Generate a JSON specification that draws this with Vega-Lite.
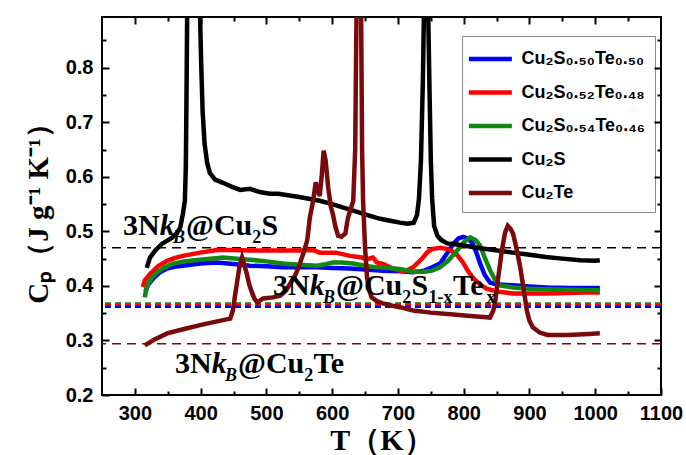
{
  "$schema": "https://vega.github.io/schema/vega-lite/v6.json",
  "width": 559,
  "height": 378,
  "autosize": {"type": "none"},
  "padding": {"left": 102, "top": 17, "right": 25, "bottom": 60},
  "background": "white",
  "config": {
    "view": {"stroke": "black", "strokeWidth": 2},
    "axis": {"grid": false, "domainColor": "black", "labelColor": "black", "titleColor": "black", "zindex": 1}
  },
  "datasets": {
    "curves": [
      {"series":"Cu₂S₀.₅₀Te₀.₅₀","T":316,"Cp":0.39},{"series":"Cu₂S₀.₅₀Te₀.₅₀","T":320,"Cp":0.402},{"series":"Cu₂S₀.₅₀Te₀.₅₀","T":328,"Cp":0.414},{"series":"Cu₂S₀.₅₀Te₀.₅₀","T":338,"Cp":0.425},{"series":"Cu₂S₀.₅₀Te₀.₅₀","T":349,"Cp":0.432},{"series":"Cu₂S₀.₅₀Te₀.₅₀","T":360,"Cp":0.435},{"series":"Cu₂S₀.₅₀Te₀.₅₀","T":373,"Cp":0.437},{"series":"Cu₂S₀.₅₀Te₀.₅₀","T":399,"Cp":0.441},{"series":"Cu₂S₀.₅₀Te₀.₅₀","T":425,"Cp":0.443},{"series":"Cu₂S₀.₅₀Te₀.₅₀","T":450,"Cp":0.44},{"series":"Cu₂S₀.₅₀Te₀.₅₀","T":475,"Cp":0.437},{"series":"Cu₂S₀.₅₀Te₀.₅₀","T":500,"Cp":0.436},{"series":"Cu₂S₀.₅₀Te₀.₅₀","T":525,"Cp":0.434},{"series":"Cu₂S₀.₅₀Te₀.₅₀","T":550,"Cp":0.434},{"series":"Cu₂S₀.₅₀Te₀.₅₀","T":577,"Cp":0.434},{"series":"Cu₂S₀.₅₀Te₀.₅₀","T":600,"Cp":0.433},{"series":"Cu₂S₀.₅₀Te₀.₅₀","T":627,"Cp":0.432},{"series":"Cu₂S₀.₅₀Te₀.₅₀","T":650,"Cp":0.43},{"series":"Cu₂S₀.₅₀Te₀.₅₀","T":677,"Cp":0.428},{"series":"Cu₂S₀.₅₀Te₀.₅₀","T":703,"Cp":0.427},{"series":"Cu₂S₀.₅₀Te₀.₅₀","T":723,"Cp":0.425},{"series":"Cu₂S₀.₅₀Te₀.₅₀","T":740,"Cp":0.428},{"series":"Cu₂S₀.₅₀Te₀.₅₀","T":752,"Cp":0.434},{"series":"Cu₂S₀.₅₀Te₀.₅₀","T":764,"Cp":0.441},{"series":"Cu₂S₀.₅₀Te₀.₅₀","T":772,"Cp":0.455},{"series":"Cu₂S₀.₅₀Te₀.₅₀","T":778,"Cp":0.466},{"series":"Cu₂S₀.₅₀Te₀.₅₀","T":784,"Cp":0.477},{"series":"Cu₂S₀.₅₀Te₀.₅₀","T":792,"Cp":0.487},{"series":"Cu₂S₀.₅₀Te₀.₅₀","T":799,"Cp":0.49},{"series":"Cu₂S₀.₅₀Te₀.₅₀","T":806,"Cp":0.487},{"series":"Cu₂S₀.₅₀Te₀.₅₀","T":813,"Cp":0.479},{"series":"Cu₂S₀.₅₀Te₀.₅₀","T":819,"Cp":0.462},{"series":"Cu₂S₀.₅₀Te₀.₅₀","T":825,"Cp":0.441},{"series":"Cu₂S₀.₅₀Te₀.₅₀","T":832,"Cp":0.42},{"series":"Cu₂S₀.₅₀Te₀.₅₀","T":840,"Cp":0.406},{"series":"Cu₂S₀.₅₀Te₀.₅₀","T":850,"Cp":0.403},{"series":"Cu₂S₀.₅₀Te₀.₅₀","T":875,"Cp":0.401},{"series":"Cu₂S₀.₅₀Te₀.₅₀","T":900,"Cp":0.399},{"series":"Cu₂S₀.₅₀Te₀.₅₀","T":927,"Cp":0.397},{"series":"Cu₂S₀.₅₀Te₀.₅₀","T":960,"Cp":0.396},{"series":"Cu₂S₀.₅₀Te₀.₅₀","T":1007,"Cp":0.396},

      {"series":"Cu₂S₀.₅₂Te₀.₄₈","T":312,"Cp":0.398},{"series":"Cu₂S₀.₅₂Te₀.₄₈","T":315,"Cp":0.41},{"series":"Cu₂S₀.₅₂Te₀.₄₈","T":323,"Cp":0.422},{"series":"Cu₂S₀.₅₂Te₀.₄₈","T":335,"Cp":0.436},{"series":"Cu₂S₀.₅₂Te₀.₄₈","T":349,"Cp":0.446},{"series":"Cu₂S₀.₅₂Te₀.₄₈","T":360,"Cp":0.451},{"series":"Cu₂S₀.₅₂Te₀.₄₈","T":373,"Cp":0.455},{"series":"Cu₂S₀.₅₂Te₀.₄₈","T":399,"Cp":0.461},{"series":"Cu₂S₀.₅₂Te₀.₄₈","T":425,"Cp":0.466},{"series":"Cu₂S₀.₅₂Te₀.₄₈","T":450,"Cp":0.466},{"series":"Cu₂S₀.₅₂Te₀.₄₈","T":475,"Cp":0.465},{"series":"Cu₂S₀.₅₂Te₀.₄₈","T":500,"Cp":0.465},{"series":"Cu₂S₀.₅₂Te₀.₄₈","T":525,"Cp":0.465},{"series":"Cu₂S₀.₅₂Te₀.₄₈","T":551,"Cp":0.465},{"series":"Cu₂S₀.₅₂Te₀.₄₈","T":571,"Cp":0.466},{"series":"Cu₂S₀.₅₂Te₀.₄₈","T":581,"Cp":0.461},{"series":"Cu₂S₀.₅₂Te₀.₄₈","T":606,"Cp":0.461},{"series":"Cu₂S₀.₅₂Te₀.₄₈","T":627,"Cp":0.455},{"series":"Cu₂S₀.₅₂Te₀.₄₈","T":645,"Cp":0.452},{"series":"Cu₂S₀.₅₂Te₀.₄₈","T":653,"Cp":0.449},{"series":"Cu₂S₀.₅₂Te₀.₄₈","T":662,"Cp":0.452},{"series":"Cu₂S₀.₅₂Te₀.₄₈","T":668,"Cp":0.443},{"series":"Cu₂S₀.₅₂Te₀.₄₈","T":678,"Cp":0.44},{"series":"Cu₂S₀.₅₂Te₀.₄₈","T":688,"Cp":0.434},{"series":"Cu₂S₀.₅₂Te₀.₄₈","T":703,"Cp":0.428},{"series":"Cu₂S₀.₅₂Te₀.₄₈","T":713,"Cp":0.428},{"series":"Cu₂S₀.₅₂Te₀.₄₈","T":723,"Cp":0.434},{"series":"Cu₂S₀.₅₂Te₀.₄₈","T":730,"Cp":0.442},{"series":"Cu₂S₀.₅₂Te₀.₄₈","T":738,"Cp":0.452},{"series":"Cu₂S₀.₅₂Te₀.₄₈","T":745,"Cp":0.462},{"series":"Cu₂S₀.₅₂Te₀.₄₈","T":753,"Cp":0.468},{"series":"Cu₂S₀.₅₂Te₀.₄₈","T":765,"Cp":0.47},{"series":"Cu₂S₀.₅₂Te₀.₄₈","T":774,"Cp":0.468},{"series":"Cu₂S₀.₅₂Te₀.₄₈","T":787,"Cp":0.461},{"series":"Cu₂S₀.₅₂Te₀.₄₈","T":793,"Cp":0.452},{"series":"Cu₂S₀.₅₂Te₀.₄₈","T":799,"Cp":0.443},{"series":"Cu₂S₀.₅₂Te₀.₄₈","T":806,"Cp":0.428},{"series":"Cu₂S₀.₅₂Te₀.₄₈","T":814,"Cp":0.415},{"series":"Cu₂S₀.₅₂Te₀.₄₈","T":825,"Cp":0.402},{"series":"Cu₂S₀.₅₂Te₀.₄₈","T":835,"Cp":0.395},{"series":"Cu₂S₀.₅₂Te₀.₄₈","T":850,"Cp":0.39},{"series":"Cu₂S₀.₅₂Te₀.₄₈","T":875,"Cp":0.386},{"series":"Cu₂S₀.₅₂Te₀.₄₈","T":900,"Cp":0.386},{"series":"Cu₂S₀.₅₂Te₀.₄₈","T":927,"Cp":0.386},{"series":"Cu₂S₀.₅₂Te₀.₄₈","T":960,"Cp":0.387},{"series":"Cu₂S₀.₅₂Te₀.₄₈","T":985,"Cp":0.388},{"series":"Cu₂S₀.₅₂Te₀.₄₈","T":1007,"Cp":0.388},

      {"series":"Cu₂S₀.₅₄Te₀.₄₆","T":315,"Cp":0.379},{"series":"Cu₂S₀.₅₄Te₀.₄₆","T":317,"Cp":0.392},{"series":"Cu₂S₀.₅₄Te₀.₄₆","T":320,"Cp":0.404},{"series":"Cu₂S₀.₅₄Te₀.₄₆","T":326,"Cp":0.416},{"series":"Cu₂S₀.₅₄Te₀.₄₆","T":334,"Cp":0.425},{"series":"Cu₂S₀.₅₄Te₀.₄₆","T":345,"Cp":0.434},{"series":"Cu₂S₀.₅₄Te₀.₄₆","T":358,"Cp":0.441},{"series":"Cu₂S₀.₅₄Te₀.₄₆","T":375,"Cp":0.445},{"series":"Cu₂S₀.₅₄Te₀.₄₆","T":399,"Cp":0.448},{"series":"Cu₂S₀.₅₄Te₀.₄₆","T":434,"Cp":0.452},{"series":"Cu₂S₀.₅₄Te₀.₄₆","T":455,"Cp":0.45},{"series":"Cu₂S₀.₅₄Te₀.₄₆","T":475,"Cp":0.448},{"series":"Cu₂S₀.₅₄Te₀.₄₆","T":500,"Cp":0.445},{"series":"Cu₂S₀.₅₄Te₀.₄₆","T":525,"Cp":0.441},{"series":"Cu₂S₀.₅₄Te₀.₄₆","T":550,"Cp":0.439},{"series":"Cu₂S₀.₅₄Te₀.₄₆","T":577,"Cp":0.437},{"series":"Cu₂S₀.₅₄Te₀.₄₆","T":590,"Cp":0.44},{"series":"Cu₂S₀.₅₄Te₀.₄₆","T":601,"Cp":0.443},{"series":"Cu₂S₀.₅₄Te₀.₄₆","T":615,"Cp":0.443},{"series":"Cu₂S₀.₅₄Te₀.₄₆","T":632,"Cp":0.441},{"series":"Cu₂S₀.₅₄Te₀.₄₆","T":650,"Cp":0.437},{"series":"Cu₂S₀.₅₄Te₀.₄₆","T":668,"Cp":0.434},{"series":"Cu₂S₀.₅₄Te₀.₄₆","T":685,"Cp":0.433},{"series":"Cu₂S₀.₅₄Te₀.₄₆","T":703,"Cp":0.431},{"series":"Cu₂S₀.₅₄Te₀.₄₆","T":723,"Cp":0.426},{"series":"Cu₂S₀.₅₄Te₀.₄₆","T":740,"Cp":0.426},{"series":"Cu₂S₀.₅₄Te₀.₄₆","T":752,"Cp":0.428},{"series":"Cu₂S₀.₅₄Te₀.₄₆","T":764,"Cp":0.434},{"series":"Cu₂S₀.₅₄Te₀.₄₆","T":777,"Cp":0.447},{"series":"Cu₂S₀.₅₄Te₀.₄₆","T":790,"Cp":0.465},{"series":"Cu₂S₀.₅₄Te₀.₄₆","T":800,"Cp":0.48},{"series":"Cu₂S₀.₅₄Te₀.₄₆","T":810,"Cp":0.489},{"series":"Cu₂S₀.₅₄Te₀.₄₆","T":818,"Cp":0.484},{"series":"Cu₂S₀.₅₄Te₀.₄₆","T":825,"Cp":0.474},{"series":"Cu₂S₀.₅₄Te₀.₄₆","T":832,"Cp":0.452},{"series":"Cu₂S₀.₅₄Te₀.₄₆","T":840,"Cp":0.429},{"series":"Cu₂S₀.₅₄Te₀.₄₆","T":848,"Cp":0.41},{"series":"Cu₂S₀.₅₄Te₀.₄₆","T":855,"Cp":0.401},{"series":"Cu₂S₀.₅₄Te₀.₄₆","T":875,"Cp":0.397},{"series":"Cu₂S₀.₅₄Te₀.₄₆","T":900,"Cp":0.395},{"series":"Cu₂S₀.₅₄Te₀.₄₆","T":927,"Cp":0.394},{"series":"Cu₂S₀.₅₄Te₀.₄₆","T":960,"Cp":0.393},{"series":"Cu₂S₀.₅₄Te₀.₄₆","T":1007,"Cp":0.392},

      {"series":"Cu₂S","T":318,"Cp":0.433},{"series":"Cu₂S","T":323,"Cp":0.452},{"series":"Cu₂S","T":331,"Cp":0.465},{"series":"Cu₂S","T":341,"Cp":0.477},{"series":"Cu₂S","T":356,"Cp":0.488},{"series":"Cu₂S","T":364,"Cp":0.497},{"series":"Cu₂S","T":369,"Cp":0.507},{"series":"Cu₂S","T":373,"Cp":0.532},{"series":"Cu₂S","T":376,"Cp":0.556},{"series":"Cu₂S","T":377.5,"Cp":0.62},{"series":"Cu₂S","T":378.5,"Cp":0.75},{"series":"Cu₂S","T":379.5,"Cp":0.9},{"series":"Cu₂S","T":389,"Cp":1.3},{"series":"Cu₂S","T":399,"Cp":0.9},{"series":"Cu₂S","T":401,"Cp":0.8},{"series":"Cu₂S","T":403,"Cp":0.72},{"series":"Cu₂S","T":406,"Cp":0.66},{"series":"Cu₂S","T":410,"Cp":0.625},{"series":"Cu₂S","T":414,"Cp":0.607},{"series":"Cu₂S","T":422,"Cp":0.595},{"series":"Cu₂S","T":434,"Cp":0.589},{"series":"Cu₂S","T":447,"Cp":0.582},{"series":"Cu₂S","T":460,"Cp":0.576},{"series":"Cu₂S","T":475,"Cp":0.578},{"series":"Cu₂S","T":490,"Cp":0.572},{"series":"Cu₂S","T":505,"Cp":0.569},{"series":"Cu₂S","T":518,"Cp":0.569},{"series":"Cu₂S","T":550,"Cp":0.563},{"series":"Cu₂S","T":581,"Cp":0.556},{"series":"Cu₂S","T":600,"Cp":0.55},{"series":"Cu₂S","T":632,"Cp":0.538},{"series":"Cu₂S","T":650,"Cp":0.531},{"series":"Cu₂S","T":673,"Cp":0.523},{"series":"Cu₂S","T":690,"Cp":0.519},{"series":"Cu₂S","T":703,"Cp":0.516},{"series":"Cu₂S","T":715,"Cp":0.514},{"series":"Cu₂S","T":724,"Cp":0.516},{"series":"Cu₂S","T":729,"Cp":0.53},{"series":"Cu₂S","T":732,"Cp":0.56},{"series":"Cu₂S","T":735,"Cp":0.63},{"series":"Cu₂S","T":738,"Cp":0.78},{"series":"Cu₂S","T":739.5,"Cp":0.9},{"series":"Cu₂S","T":743,"Cp":1.3},{"series":"Cu₂S","T":746,"Cp":0.9},{"series":"Cu₂S","T":748,"Cp":0.76},{"series":"Cu₂S","T":750,"Cp":0.63},{"series":"Cu₂S","T":752,"Cp":0.56},{"series":"Cu₂S","T":755,"Cp":0.51},{"series":"Cu₂S","T":760,"Cp":0.492},{"series":"Cu₂S","T":766,"Cp":0.484},{"series":"Cu₂S","T":775,"Cp":0.478},{"series":"Cu₂S","T":790,"Cp":0.476},{"series":"Cu₂S","T":800,"Cp":0.474},{"series":"Cu₂S","T":825,"Cp":0.469},{"series":"Cu₂S","T":851,"Cp":0.465},{"series":"Cu₂S","T":875,"Cp":0.461},{"series":"Cu₂S","T":900,"Cp":0.457},{"series":"Cu₂S","T":925,"Cp":0.453},{"series":"Cu₂S","T":950,"Cp":0.45},{"series":"Cu₂S","T":977,"Cp":0.447},{"series":"Cu₂S","T":1000,"Cp":0.446},{"series":"Cu₂S","T":1007,"Cp":0.447},

      {"series":"Cu₂Te","T":315,"Cp":0.291},{"series":"Cu₂Te","T":330,"Cp":0.302},{"series":"Cu₂Te","T":349,"Cp":0.313},{"series":"Cu₂Te","T":375,"Cp":0.321},{"series":"Cu₂Te","T":399,"Cp":0.328},{"series":"Cu₂Te","T":425,"Cp":0.335},{"series":"Cu₂Te","T":445,"Cp":0.34},{"series":"Cu₂Te","T":449,"Cp":0.355},{"series":"Cu₂Te","T":452,"Cp":0.38},{"series":"Cu₂Te","T":455,"Cp":0.404},{"series":"Cu₂Te","T":459,"Cp":0.435},{"series":"Cu₂Te","T":463,"Cp":0.452},{"series":"Cu₂Te","T":466,"Cp":0.44},{"series":"Cu₂Te","T":470,"Cp":0.423},{"series":"Cu₂Te","T":474,"Cp":0.402},{"series":"Cu₂Te","T":478,"Cp":0.388},{"series":"Cu₂Te","T":482,"Cp":0.376},{"series":"Cu₂Te","T":486,"Cp":0.37},{"series":"Cu₂Te","T":495,"Cp":0.377},{"series":"Cu₂Te","T":510,"Cp":0.379},{"series":"Cu₂Te","T":521,"Cp":0.382},{"series":"Cu₂Te","T":530,"Cp":0.392},{"series":"Cu₂Te","T":536,"Cp":0.404},{"series":"Cu₂Te","T":544,"Cp":0.42},{"series":"Cu₂Te","T":551,"Cp":0.441},{"series":"Cu₂Te","T":557,"Cp":0.463},{"series":"Cu₂Te","T":562,"Cp":0.483},{"series":"Cu₂Te","T":566,"Cp":0.525},{"series":"Cu₂Te","T":571,"Cp":0.556},{"series":"Cu₂Te","T":575,"Cp":0.59},{"series":"Cu₂Te","T":578,"Cp":0.575},{"series":"Cu₂Te","T":581,"Cp":0.565},{"series":"Cu₂Te","T":584,"Cp":0.6},{"series":"Cu₂Te","T":587,"Cp":0.648},{"series":"Cu₂Te","T":590,"Cp":0.63},{"series":"Cu₂Te","T":594,"Cp":0.58},{"series":"Cu₂Te","T":598,"Cp":0.545},{"series":"Cu₂Te","T":601,"Cp":0.532},{"series":"Cu₂Te","T":605,"Cp":0.508},{"series":"Cu₂Te","T":609,"Cp":0.492},{"series":"Cu₂Te","T":614,"Cp":0.49},{"series":"Cu₂Te","T":620,"Cp":0.496},{"series":"Cu₂Te","T":624,"Cp":0.525},{"series":"Cu₂Te","T":628,"Cp":0.54},{"series":"Cu₂Te","T":632,"Cp":0.556},{"series":"Cu₂Te","T":635,"Cp":0.65},{"series":"Cu₂Te","T":637,"Cp":0.9},{"series":"Cu₂Te","T":640,"Cp":1.3},{"series":"Cu₂Te","T":644,"Cp":0.9},{"series":"Cu₂Te","T":645.5,"Cp":0.65},{"series":"Cu₂Te","T":647,"Cp":0.556},{"series":"Cu₂Te","T":650,"Cp":0.47},{"series":"Cu₂Te","T":653,"Cp":0.415},{"series":"Cu₂Te","T":657,"Cp":0.39},{"series":"Cu₂Te","T":660,"Cp":0.379},{"series":"Cu₂Te","T":668,"Cp":0.372},{"series":"Cu₂Te","T":677,"Cp":0.368},{"series":"Cu₂Te","T":690,"Cp":0.364},{"series":"Cu₂Te","T":703,"Cp":0.361},{"series":"Cu₂Te","T":723,"Cp":0.355},{"series":"Cu₂Te","T":750,"Cp":0.351},{"series":"Cu₂Te","T":780,"Cp":0.348},{"series":"Cu₂Te","T":810,"Cp":0.345},{"series":"Cu₂Te","T":830,"Cp":0.343},{"series":"Cu₂Te","T":840,"Cp":0.342},{"series":"Cu₂Te","T":845,"Cp":0.355},{"series":"Cu₂Te","T":848,"Cp":0.373},{"series":"Cu₂Te","T":853,"Cp":0.42},{"series":"Cu₂Te","T":858,"Cp":0.465},{"series":"Cu₂Te","T":863,"Cp":0.498},{"series":"Cu₂Te","T":867,"Cp":0.51},{"series":"Cu₂Te","T":871,"Cp":0.505},{"series":"Cu₂Te","T":875,"Cp":0.496},{"series":"Cu₂Te","T":880,"Cp":0.47},{"series":"Cu₂Te","T":886,"Cp":0.434},{"series":"Cu₂Te","T":891,"Cp":0.395},{"series":"Cu₂Te","T":896,"Cp":0.355},{"series":"Cu₂Te","T":900,"Cp":0.336},{"series":"Cu₂Te","T":905,"Cp":0.324},{"series":"Cu₂Te","T":915,"Cp":0.315},{"series":"Cu₂Te","T":927,"Cp":0.31},{"series":"Cu₂Te","T":940,"Cp":0.31},{"series":"Cu₂Te","T":957,"Cp":0.31},{"series":"Cu₂Te","T":975,"Cp":0.311},{"series":"Cu₂Te","T":990,"Cp":0.312},{"series":"Cu₂Te","T":1007,"Cp":0.313}
    ],
    "refs": [
      {"series":"Cu₂S","Cp":0.47},
      {"series":"Cu₂Te","Cp":0.294},
      {"series":"Cu₂S₀.₅₄Te₀.₄₆","Cp":0.368},
      {"series":"Cu₂S₀.₅₂Te₀.₄₈","Cp":0.365},
      {"series":"Cu₂S₀.₅₀Te₀.₅₀","Cp":0.3616}
    ],
    "labels": [
      {"t":"3N","T":281.9,"Cp":0.494,"part":"main"},
      {"t":"k","T":337.7,"Cp":0.494,"part":"ital"},
      {"t":"B","T":358,"Cp":0.494,"part":"isub"},
      {"t":"@Cu","T":377.7,"Cp":0.494,"part":"main"},
      {"t":"2","T":478.4,"Cp":0.494,"part":"sub"},
      {"t":"S","T":492.5,"Cp":0.494,"part":"main"},
      {"t":"3N","T":510,"Cp":0.384,"part":"main"},
      {"t":"k","T":565.8,"Cp":0.384,"part":"ital"},
      {"t":"B","T":586.1,"Cp":0.384,"part":"isub"},
      {"t":"@Cu","T":605.8,"Cp":0.384,"part":"main"},
      {"t":"2","T":706.5,"Cp":0.384,"part":"sub"},
      {"t":"S","T":720.6,"Cp":0.384,"part":"main"},
      {"t":"1-x","T":746.5,"Cp":0.384,"part":"sub"},
      {"t":"Te","T":783.7,"Cp":0.384,"part":"main"},
      {"t":"x","T":834.7,"Cp":0.384,"part":"sub"},
      {"t":"3N","T":361,"Cp":0.241,"part":"main"},
      {"t":"k","T":416.8,"Cp":0.241,"part":"ital"},
      {"t":"B","T":437,"Cp":0.241,"part":"isub"},
      {"t":"@Cu","T":456.8,"Cp":0.241,"part":"main"},
      {"t":"2","T":557.5,"Cp":0.241,"part":"sub"},
      {"t":"Te","T":571.6,"Cp":0.241,"part":"main"}
    ]
  },
  "layer": [
    {
      "data": {"name": "refs"},
      "transform": [{"filter": {"field": "series", "oneOf": ["Cu₂S", "Cu₂Te"]}}],
      "mark": {"type": "rule", "strokeDash": [9, 6], "strokeWidth": 1.6},
      "encoding": {
        "y": {"field": "Cp", "type": "quantitative",
          "scale": {"domain": [0.2, 0.893], "nice": false, "zero": false},
          "axis": {"orient": "left", "values": [0.25, 0.35, 0.45, 0.55, 0.65, 0.75, 0.85], "zindex": 1, "ticks": true, "tickSize": -4, "tickWidth": 2, "tickColor": "black", "tickOpacity": 1, "domain": false, "labels": false, "title": null}},
        "color": {"field": "series", "type": "nominal"}
      }
    },
    {
      "data": {"name": "refs"},
      "transform": [{"filter": {"field": "series", "oneOf": ["Cu₂S₀.₅₄Te₀.₄₆", "Cu₂S₀.₅₂Te₀.₄₈", "Cu₂S₀.₅₀Te₀.₅₀"]}}],
      "mark": {"type": "rule", "strokeDash": [6, 4], "strokeWidth": 2.2},
      "encoding": {
        "y": {"field": "Cp", "type": "quantitative",
          "scale": {"domain": [0.2, 0.893], "nice": false, "zero": false},
          "axis": {"orient": "right", "values": [0.3, 0.4, 0.5, 0.6, 0.7, 0.8], "zindex": 1, "ticks": true, "tickSize": -7, "tickWidth": 2, "tickColor": "black", "tickOpacity": 1, "domain": false, "labels": false, "title": null}},
        "color": {"field": "series", "type": "nominal"}
      }
    },
    {
      "data": {"name": "curves"},
      "mark": {"type": "line", "clip": true},
      "encoding": {
        "x": {
          "field": "T", "type": "quantitative",
          "scale": {"domain": [250, 1100], "nice": false, "zero": false},
          "axis": {
            "orient": "bottom", "values": [300, 400, 500, 600, 700, 800, 900, 1000, 1100], "format": "d", "zindex": 1,
            "ticks": true, "tickSize": -7, "tickWidth": 2, "tickColor": "black", "tickOpacity": 1, "domain": false,
            "labelPadding": 15, "labelFont": "Liberation Sans", "labelFontWeight": "bold", "labelFontSize": 20,
            "labelFlush": false, "labelOverlap": false,
            "title": "T（K）", "titleFont": "Liberation Serif", "titleFontWeight": "bold", "titleFontSize": 30,
            "titleY": 54, "titleBaseline": "alphabetic"
          }
        },
        "y": {
          "field": "Cp", "type": "quantitative",
          "scale": {"domain": [0.2, 0.893], "nice": false, "zero": false},
          "axis": {
            "orient": "left", "values": [0.2, 0.3, 0.4, 0.5, 0.6, 0.7, 0.8], "format": ".1f", "zindex": 1,
            "ticks": true, "tickSize": -7, "tickWidth": 2, "tickColor": "black", "tickOpacity": 1, "domain": false,
            "labelPadding": 16, "labelFont": "Liberation Sans", "labelFontWeight": "bold", "labelFontSize": 20,
            "labelFlush": false, "labelOverlap": false,
            "title": "Cₚ（J g⁻¹ K⁻¹）", "titleFont": "Liberation Serif", "titleFontWeight": "bold", "titleFontSize": 29,
            "titleX": -64, "titleY": 189, "titleAngle": -90, "titleAlign": "center", "titleBaseline": "middle"
          }
        },
        "color": {
          "field": "series", "type": "nominal",
          "scale": {
            "domain": ["Cu₂S₀.₅₀Te₀.₅₀", "Cu₂S₀.₅₂Te₀.₄₈", "Cu₂S₀.₅₄Te₀.₄₆", "Cu₂S", "Cu₂Te"],
            "range": ["#0000ff", "#ff0000", "#118811", "#000000", "#7a0a0a"]
          },
          "legend": {
            "orient": "none", "legendX": 360, "legendY": 19, "title": null,
            "padding": 10, "strokeColor": "#888888", "fillColor": "white",
            "rowPadding": 11.5, "labelOffset": 23.5, "labelLimit": 0,
            "labelFont": "Liberation Sans", "labelFontWeight": "bold", "labelFontSize": 18, "labelColor": "black",
            "symbolType": "M-1.5,0H2.5", "symbolSize": 462
          }
        },
        "strokeWidth": {
          "field": "series", "type": "nominal",
          "scale": {
            "domain": ["Cu₂S₀.₅₀Te₀.₅₀", "Cu₂S₀.₅₂Te₀.₄₈", "Cu₂S₀.₅₄Te₀.₄₆", "Cu₂S", "Cu₂Te"],
            "range": [4.5, 4.5, 4.5, 2.4, 2.4]
          }
        }
      }
    },
    {
      "data": {"name": "labels"},
      "transform": [{"filter": {"field": "part", "equal": "main"}}],
      "mark": {"type": "text", "font": "Liberation Serif", "fontWeight": "bold", "fontSize": 30, "align": "left", "baseline": "alphabetic", "color": "black"},
      "encoding": {
        "x": {"field": "T", "type": "quantitative",
          "scale": {"domain": [250, 1100], "nice": false, "zero": false},
          "axis": {"orient": "bottom", "values": [350, 450, 550, 650, 750, 850, 950, 1050], "zindex": 1, "ticks": true, "tickSize": -4, "tickWidth": 2, "tickColor": "black", "tickOpacity": 1, "domain": false, "labels": false, "title": null}},
        "y": {"field": "Cp", "type": "quantitative",
          "scale": {"domain": [0.2, 0.893], "nice": false, "zero": false},
          "axis": {"orient": "right", "values": [0.25, 0.35, 0.45, 0.55, 0.65, 0.75, 0.85], "zindex": 1, "ticks": true, "tickSize": -4, "tickWidth": 2, "tickColor": "black", "tickOpacity": 1, "domain": false, "labels": false, "title": null}},
        "text": {"field": "t"}
      }
    },
    {
      "data": {"name": "labels"},
      "transform": [{"filter": {"field": "part", "equal": "ital"}}],
      "mark": {"type": "text", "font": "Liberation Serif", "fontWeight": "bold", "fontStyle": "italic", "fontSize": 30, "align": "left", "baseline": "alphabetic", "color": "black"},
      "encoding": {
        "x": {"field": "T", "type": "quantitative",
          "scale": {"domain": [250, 1100], "nice": false, "zero": false},
          "axis": {"orient": "top", "values": [300, 400, 500, 600, 700, 800, 900, 1000], "zindex": 1, "ticks": true, "tickSize": -7, "tickWidth": 2, "tickColor": "black", "tickOpacity": 1, "domain": false, "labels": false, "title": null}},
        "y": {"field": "Cp", "type": "quantitative",
          "scale": {"domain": [0.2, 0.893], "nice": false, "zero": false},
          "axis": null},
        "text": {"field": "t"}
      }
    },
    {
      "data": {"name": "labels"},
      "transform": [{"filter": {"field": "part", "equal": "sub"}}],
      "mark": {"type": "text", "font": "Liberation Serif", "fontWeight": "bold", "fontSize": 18, "align": "left", "baseline": "alphabetic", "dy": 8, "color": "black"},
      "encoding": {
        "x": {"field": "T", "type": "quantitative",
          "scale": {"domain": [250, 1100], "nice": false, "zero": false},
          "axis": {"orient": "top", "values": [350, 450, 550, 650, 750, 850, 950, 1050], "zindex": 1, "ticks": true, "tickSize": -4, "tickWidth": 2, "tickColor": "black", "tickOpacity": 1, "domain": false, "labels": false, "title": null}},
        "y": {"field": "Cp", "type": "quantitative",
          "scale": {"domain": [0.2, 0.893], "nice": false, "zero": false},
          "axis": null},
        "text": {"field": "t"}
      }
    },
    {
      "data": {"name": "labels"},
      "transform": [{"filter": {"field": "part", "equal": "isub"}}],
      "mark": {"type": "text", "font": "Liberation Serif", "fontWeight": "bold", "fontStyle": "italic", "fontSize": 18, "align": "left", "baseline": "alphabetic", "dy": 8, "color": "black"},
      "encoding": {
        "x": {"field": "T", "type": "quantitative",
          "scale": {"domain": [250, 1100], "nice": false, "zero": false},
          "axis": null},
        "y": {"field": "Cp", "type": "quantitative",
          "scale": {"domain": [0.2, 0.893], "nice": false, "zero": false},
          "axis": null},
        "text": {"field": "t"}
      }
    }
  ],
  "resolve": {
    "scale": {"x": "independent", "y": "independent"},
    "axis": {"x": "independent", "y": "independent"}
  }
}
